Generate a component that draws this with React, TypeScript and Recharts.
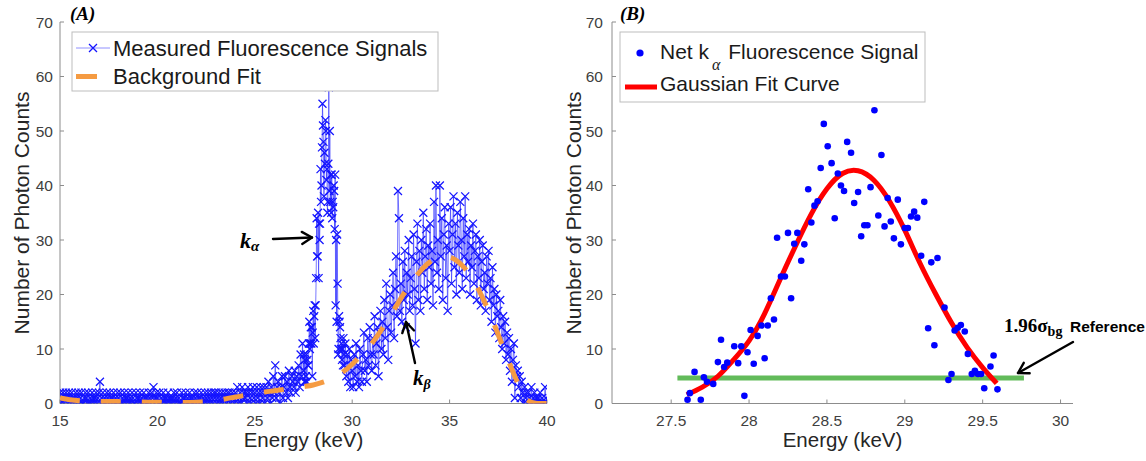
import React from "react";
import { ComposedChart, Line, XAxis, YAxis } from "recharts";

// ---------- panel (A): measured spectrum ----------
// counts in 0.05 keV bins, 15.00 .. 19.95
const base15 = [
  2, 0, 1, 2, 0, 1, 2, 1, 0, 2,
  1, 0, 2, 1, 0, 1, 2, 0, 1, 2,
  0, 1, 2, 0, 0, 1, 2, 1, 0, 2,
  0, 1, 0, 2, 1, 0, 1, 2, 0, 1,
  2, 4, 0, 1, 2, 0, 1, 0, 2, 1,
  0, 2, 1, 0, 1, 2, 0, 1, 0, 2,
  1, 0, 2, 0, 1, 0, 2, 1, 0, 1,
  2, 0, 1, 0, 2, 1, 0, 0, 2, 1,
  0, 1, 2, 0, 1, 0, 2, 1, 0, 1,
  0, 2, 1, 0, 2, 1, 3, 0, 1, 2,
];
// 20.00 .. 24.95
const base20 = [
  1, 0, 2, 0, 1, 0, 2, 1, 0, 1,
  0, 2, 1, 0, 1, 0, 1, 2, 0, 1,
  2, 0, 1, 0, 0, 2, 1, 0, 1, 2,
  0, 1, 0, 2, 1, 0, 1, 0, 2, 1,
  0, 2, 1, 0, 1, 2, 0, 1, 0, 2,
  1, 0, 2, 1, 0, 2, 1, 0, 2, 1,
  2, 0, 1, 2, 0, 1, 2, 0, 1, 2,
  1, 0, 2, 1, 2, 0, 1, 2, 1, 0,
  2, 1, 3, 0, 1, 2, 0, 3, 1, 2,
  1, 2, 0, 3, 2, 1, 0, 2, 3, 1,
];
// 25.00 .. 27.45
const rise25 = [
  2, 0, 3, 1, 2, 0, 3, 2, 1, 3,
  0, 2, 3, 1, 4, 2, 0, 3, 1, 5,
  2, 7, 1, 3, 4, 2, 0, 3, 5, 1,
  3, 5, 2, 4, 1, 6, 3, 2, 5, 4,
  3, 6, 2, 5, 4, 7, 3, 9, 5, 11,
];
// k-alpha window, 0.025 keV bins, 27.500 .. 29.575
const kaWindow = [
  6, 9, 4, 8, 4, 5, 9, 4, 8, 7,
  7, 11, 15, 10, 11, 14, 11, 14, 5, 13,
  17, 11, 16, 18, 12, 18, 23, 34, 27, 27,
  35, 23, 33, 30, 33, 43, 37, 40, 47, 55,
  51, 48, 38, 46, 44, 52, 50, 41, 43, 35,
  37, 44, 58, 39, 50, 37, 42, 35, 42, 34,
  37, 36, 40, 39, 32, 42, 18, 30, 15, 31,
  22, 9, 10, 16, 15, 14, 12, 10, 11, 8,
  10, 7, 12, 9,
];
// 29.60 .. 34.95
const kb30 = [
  7, 11, 5, 9, 4, 10, 3, 8,
  6, 3, 9, 5, 11, 4, 7, 3, 10, 6,
  4, 9, 13, 6, 8, 4, 12, 7, 14, 9,
  6, 12, 9, 16, 7, 11, 14, 5, 13, 17,
  10, 15, 9, 19, 12, 22, 14, 8, 17, 20,
  13, 18, 24, 12, 21, 27, 16, 39, 34, 17,
  22, 15, 26, 19, 28, 14, 24, 20, 30, 17,
  23, 27, 18, 31, 21, 11, 26, 33, 19, 28,
  17, 30, 24, 35, 21, 27, 32, 19, 29, 25,
  33, 22, 28, 18, 37, 26, 40, 24, 30, 21,
  40, 27, 34, 19, 31, 36, 23, 29, 17, 33,
];
// 35.00 .. 40.00
const kb35 = [
  28, 36, 22, 31, 38, 25, 33, 20, 35, 29,
  24, 37, 30, 21, 34, 27, 38, 23, 31, 26,
  32, 20, 29, 25, 33, 22, 28, 31, 19, 27,
  23, 30, 18, 26, 29, 21, 24, 17, 27, 22,
  28, 19, 23, 15, 25, 18, 21, 13, 20, 16,
  17, 12, 19, 14, 10, 16, 11, 15, 8, 13,
  9, 12, 6, 10, 4, 8, 11, 1, 7, 5,
  6, 3, 5, 1, 4, 2, 0, 3, 1, 2,
  0, 2, 1, 0, 3, 0, 1, 2, 0, 1,
  0, 1, 0, 2, 0, 1, 0, 0, 3, 1,
  0,
];

const bgEnergy = [
  15, 15.5, 16, 16.5, 17, 17.5, 18, 18.5, 19, 19.5, 20, 20.5, 21, 21.5, 22, 22.5, 23, 23.5, 24, 24.5,
  25, 25.5, 26, 26.5, 27, 27.5, 28, 28.5, 29, 29.5, 30, 30.5, 31, 31.5, 32, 32.5, 33, 33.5, 34, 34.5,
  35, 35.5, 36, 36.5, 37, 37.5, 38, 38.5, 39, 39.5, 40,
];
const bgCounts = [
  1.0, 0.7, 0.5, 0.4, 0.35, 0.35, 0.35, 0.3, 0.3, 0.25, 0.25, 0.2, 0.2, 0.2, 0.25, 0.35, 0.55, 0.85, 1.2, 1.5,
  1.8, 2.1, 2.35, 2.6, 2.85, 3.1, 3.4, 3.9, 4.6, 5.7, 7.2, 9.0, 11.0, 13.5, 16.3, 19.3, 22.0, 24.3, 26.0, 26.9,
  26.8, 25.8, 23.8, 20.8, 17.0, 12.6, 8.0, 3.8, 0.6, 0, 0,
];

// ---------- panel (B): net k-alpha ----------
const netEnergy = [
  27.605, 27.62, 27.65, 27.69, 27.71, 27.73, 27.77, 27.8, 27.82, 27.84, 27.86, 27.905, 27.93, 27.95, 27.97,
  27.99, 28.01, 28.03, 28.055, 28.08, 28.1, 28.12, 28.14, 28.16, 28.18, 28.205, 28.23, 28.25, 28.27, 28.29,
  28.31, 28.335, 28.355, 28.38, 28.4, 28.42, 28.44, 28.46, 28.48, 28.505, 28.53, 28.55, 28.57, 28.59, 28.61,
  28.63, 28.655, 28.675, 28.7, 28.72, 28.74, 28.76, 28.78, 28.805, 28.83, 28.85, 28.87, 28.89, 28.91, 28.93,
  28.955, 28.975, 29.0, 29.02, 29.04, 29.06, 29.08, 29.105, 29.125, 29.15, 29.17, 29.19, 29.21, 29.255, 29.28,
  29.3, 29.32, 29.34, 29.36, 29.385, 29.405, 29.43, 29.45, 29.47, 29.49, 29.51, 29.55, 29.57, 29.595,
];
const netCounts = [
  0.7, 1.9, 5.8, 0.7, 4.8, 4.0, 3.6, 7.6, 11.7, 6.7, 7.5, 10.5, 7.4, 10.5, 1.4,
  9.4, 13.5, 7.3, 12.4, 14.3, 8.3, 14.3, 19.3, 15.4, 30.4, 23.3, 23.3, 31.3, 19.3, 29.3,
  31.3, 26.2, 29.2, 39.3, 33.2, 36.3, 37.1, 43.2, 51.3, 47.2, 44.1, 34.0, 42.2, 40.0, 39.0,
  48.0, 46.0, 36.8, 38.8, 30.7, 32.7, 32.7, 39.7, 53.8, 34.5, 45.6, 32.5, 37.7, 33.4, 30.3,
  37.4, 29.2, 32.2, 32.2, 34.3, 35.2, 34.1, 27.1, 37.0, 13.8, 25.9, 10.7, 26.7, 17.6, 4.3,
  5.4, 13.4, 13.9, 14.4, 13.2, 9.1, 5.4, 6.0, 5.4, 5.4, 2.8, 6.8, 8.8, 2.6,
];
const fitEnergy = [
  27.6, 27.7, 27.8, 27.9, 28.0, 28.1, 28.2, 28.3, 28.4, 28.5, 28.6,
  28.7, 28.8, 28.9, 29.0, 29.1, 29.2, 29.3, 29.4, 29.5, 29.59,
];
const fitCounts = [
  1.6, 3.0, 5.0, 8.0, 11.5, 16.5, 22.8, 29.0, 34.8, 39.4, 42.2,
  42.7, 41.0, 37.2, 31.8, 25.6, 20.0, 14.8, 10.3, 6.6, 3.7,
];
const refEnergy = [27.54, 29.765];
const refLevel = 4.7;

const ticksA = [15, 20, 25, 30, 35, 40];
const ticksB = [27.5, 28, 28.5, 29, 29.5, 30];
const countTicks = [0, 10, 20, 30, 40, 50, 60, 70];

const toBins = (start: number, step: number, counts: number[]) =>
  counts.map((y, i) => ({ x: Math.round((start + i * step) * 1000) / 1000, y }));

const measured = [
  ...toBins(15, 0.05, base15),
  ...toBins(20, 0.05, base20),
  ...toBins(25, 0.05, rise25),
  ...toBins(27.5, 0.025, kaWindow),
  ...toBins(29.6, 0.05, kb30),
  ...toBins(35, 0.05, kb35),
];
const background = bgEnergy.map((x, i) => ({ x, y: bgCounts[i] }));
const netPoints = netEnergy.map((x, i) => ({ x, y: netCounts[i] }));
const fitPoints = fitEnergy.map((x, i) => ({ x, y: fitCounts[i] }));
const refPoints = refEnergy.map((x) => ({ x, y: refLevel }));

const sans = '"Liberation Sans", Arial, Helvetica, sans-serif';
const serif = '"Liberation Serif", "Times New Roman", serif';
const axisGray = "#8c8c8c";
const orange = "#f59b42";
const markBlue = "#1414ff";
const tickStyle = { fill: "#404040", fontSize: 15.5, fontFamily: sans };

function Cross(props: any) {
  const { cx, cy, index } = props;
  if (cx == null || cy == null) return <g key={`c${index}`} />;
  const s = 4;
  return (
    <path
      key={`c${index}`}
      d={`M${cx - s} ${cy - s}L${cx + s} ${cy + s}M${cx - s} ${cy + s}L${cx + s} ${cy - s}`}
      stroke={markBlue}
      strokeWidth={1.25}
      fill="none"
    />
  );
}

function Arrow({ x1, y1, x2, y2 }: { x1: number; y1: number; x2: number; y2: number }) {
  const a = Math.atan2(y2 - y1, x2 - x1);
  const L = 10;
  const W = 6;
  const bx = x2 - L * Math.cos(a);
  const by = y2 - L * Math.sin(a);
  const p1 = `${bx - W * Math.sin(a)},${by + W * Math.cos(a)}`;
  const p2 = `${bx + W * Math.sin(a)},${by - W * Math.cos(a)}`;
  return (
    <g stroke="#000" strokeWidth={2.4} fill="none" strokeLinecap="round" strokeLinejoin="round">
      <line x1={x1} y1={y1} x2={x2} y2={y2} />
      <polyline points={`${p1} ${x2},${y2} ${p2}`} />
    </g>
  );
}

function Overlay() {
  const label = { fontFamily: sans, fontSize: 20.5, fill: "#262626" };
  const legendA = { fontFamily: sans, fontSize: 22, fill: "#1a1a1a" };
  const legendB = { fontFamily: sans, fontSize: 21, fill: "#1a1a1a" };
  return (
    <svg
      width={1146}
      height={461}
      style={{ position: "absolute", left: 0, top: 0, pointerEvents: "none" }}
    >
      <text x={70} y={20} fontFamily={serif} fontStyle="italic" fontWeight="bold" fontSize={19}>
        (A)
      </text>
      <text x={620} y={20} fontFamily={serif} fontStyle="italic" fontWeight="bold" fontSize={19}>
        (B)
      </text>

      <text x={303.5} y={447} textAnchor="middle" {...label}>
        Energy (keV)
      </text>
      <text x={842.5} y={447} textAnchor="middle" {...label}>
        Energy (keV)
      </text>
      <text transform="translate(22,213) rotate(-90)" textAnchor="middle" dy="0.35em" {...label} fontSize={21}>
        Number of Photon Counts
      </text>
      <text transform="translate(574,213) rotate(-90)" textAnchor="middle" dy="0.35em" {...label} fontSize={21}>
        Number of Photon Counts
      </text>

      {/* legend A */}
      <rect x={72} y={32} width={366} height={59} fill="#fff" stroke="#bdbdbd" />
      <line x1={76} x2={110} y1={48} y2={48} stroke="rgba(70,70,255,0.6)" />
      <path d="M89 44L97 52M89 52L97 44" stroke={markBlue} strokeWidth={1.25} />
      <text x={113} y={55.5} {...legendA}>
        Measured Fluorescence Signals
      </text>
      <line x1={76} x2={97} y1={76.5} y2={76.5} stroke={orange} strokeWidth={5} />
      <text x={113} y={83.5} {...legendA}>
        Background Fit
      </text>

      {/* legend B */}
      <rect x={620} y={32} width={305} height={70} fill="#fff" stroke="#bdbdbd" />
      <circle cx={640} cy={53} r={3.6} fill="#0000ff" />
      <text x={660} y={58.5} {...legendB}>
        Net k
        <tspan dx={3} dy={11} fontFamily={serif} fontStyle="italic" fontSize={16}>
          α
        </tspan>
        <tspan dx={2} dy={-11}>
          {" "}Fluorescence Signal
        </tspan>
      </text>
      <line x1={625} x2={657} y1={87} y2={87} stroke="#ff0000" strokeWidth={5} />
      <text x={660} y={91} {...legendB}>
        Gaussian Fit Curve
      </text>

      {/* annotations */}
      <text x={240} y={248} fontFamily={serif} fontStyle="italic" fontWeight="bold" fontSize={22}>
        k
        <tspan dy={3} fontSize={15}>
          α
        </tspan>
      </text>
      <Arrow x1={273} y1={239} x2={312} y2={237.5} />
      <text x={413} y={385} fontFamily={serif} fontStyle="italic" fontWeight="bold" fontSize={21}>
        k
        <tspan dy={4} fontSize={14}>
          β
        </tspan>
      </text>
      <Arrow x1={415} y1={363} x2={406} y2={322} />
      <text x={1004} y={332} fontFamily={serif} fontWeight="bold" fontSize={19}>
        1.96σ
        <tspan dy={4} fontSize={14}>
          bg
        </tspan>
      </text>
      <text x={1070} y={332} fontFamily={sans} fontWeight="bold" fontSize={15.5}>
        Reference
      </text>
      <Arrow x1={1073} y1={342} x2={1018} y2={373} />
    </svg>
  );
}

export default function App() {
  return (
    <div
      style={{
        position: "fixed",
        left: 0,
        top: 0,
        width: 1146,
        height: 461,
        background: "#fff",
        overflow: "hidden",
      }}
    >
      <div style={{ position: "absolute", left: 0, top: 0 }}>
        <ComposedChart width={580} height={461} margin={{ top: 22, right: 33, bottom: 27.5, left: 20 }}>
          <XAxis
            type="number"
            dataKey="x"
            domain={[15, 40]}
            ticks={ticksA}
            interval={0}
            allowDataOverflow
            stroke={axisGray}
            tick={tickStyle}
            tickSize={-4}
            tickMargin={15}
            height={30}
          />
          <YAxis
            type="number"
            domain={[0, 70]}
            ticks={countTicks}
            interval={0}
            allowDataOverflow
            stroke={axisGray}
            tick={tickStyle}
            tickSize={-4}
            tickMargin={11}
            width={40}
          />
          <Line
            data={measured}
            dataKey="y"
            type="linear"
            stroke="rgba(50,50,255,0.65)"
            strokeWidth={1}
            dot={Cross}
            activeDot={false}
            isAnimationActive={false}
          />
        </ComposedChart>
      </div>
      {/* background fit in its own layer so it sits above the markers; hidden axes take no room */}
      <div style={{ position: "absolute", left: 0, top: 0 }}>
        <ComposedChart width={580} height={461} margin={{ top: 22, right: 33, bottom: 57.5, left: 60 }}>
          <XAxis type="number" dataKey="x" domain={[15, 40]} allowDataOverflow hide />
          <YAxis type="number" domain={[0, 70]} allowDataOverflow hide />
          <Line
            data={background}
            dataKey="y"
            type="monotone"
            stroke={orange}
            strokeWidth={5}
            strokeDasharray="20 21"
            dot={false}
            activeDot={false}
            isAnimationActive={false}
          />
        </ComposedChart>
      </div>
      <div style={{ position: "absolute", left: 580, top: 0 }}>
        <ComposedChart width={566} height={461} margin={{ top: 22, right: 73, bottom: 27.5, left: 2 }}>
          <XAxis
            type="number"
            dataKey="x"
            domain={[27.12, 30.08]}
            ticks={ticksB}
            interval={0}
            allowDataOverflow
            stroke={axisGray}
            tick={tickStyle}
            tickSize={-4}
            tickMargin={15}
            height={30}
          />
          <YAxis
            type="number"
            domain={[0, 70]}
            ticks={countTicks}
            interval={0}
            allowDataOverflow
            stroke={axisGray}
            tick={tickStyle}
            tickSize={-4}
            tickMargin={13}
            width={30}
          />
          <Line
            data={netPoints}
            dataKey="y"
            stroke="none"
            dot={{ r: 3.3, fill: "#0000ff", stroke: "none" }}
            activeDot={false}
            isAnimationActive={false}
          />
          <Line
            data={refPoints}
            dataKey="y"
            stroke="#62bb5a"
            strokeWidth={5}
            dot={false}
            activeDot={false}
            isAnimationActive={false}
          />
          <Line
            data={fitPoints}
            dataKey="y"
            type="natural"
            stroke="#ff0000"
            strokeWidth={5}
            dot={false}
            activeDot={false}
            isAnimationActive={false}
          />
        </ComposedChart>
      </div>
      <Overlay />
    </div>
  );
}
